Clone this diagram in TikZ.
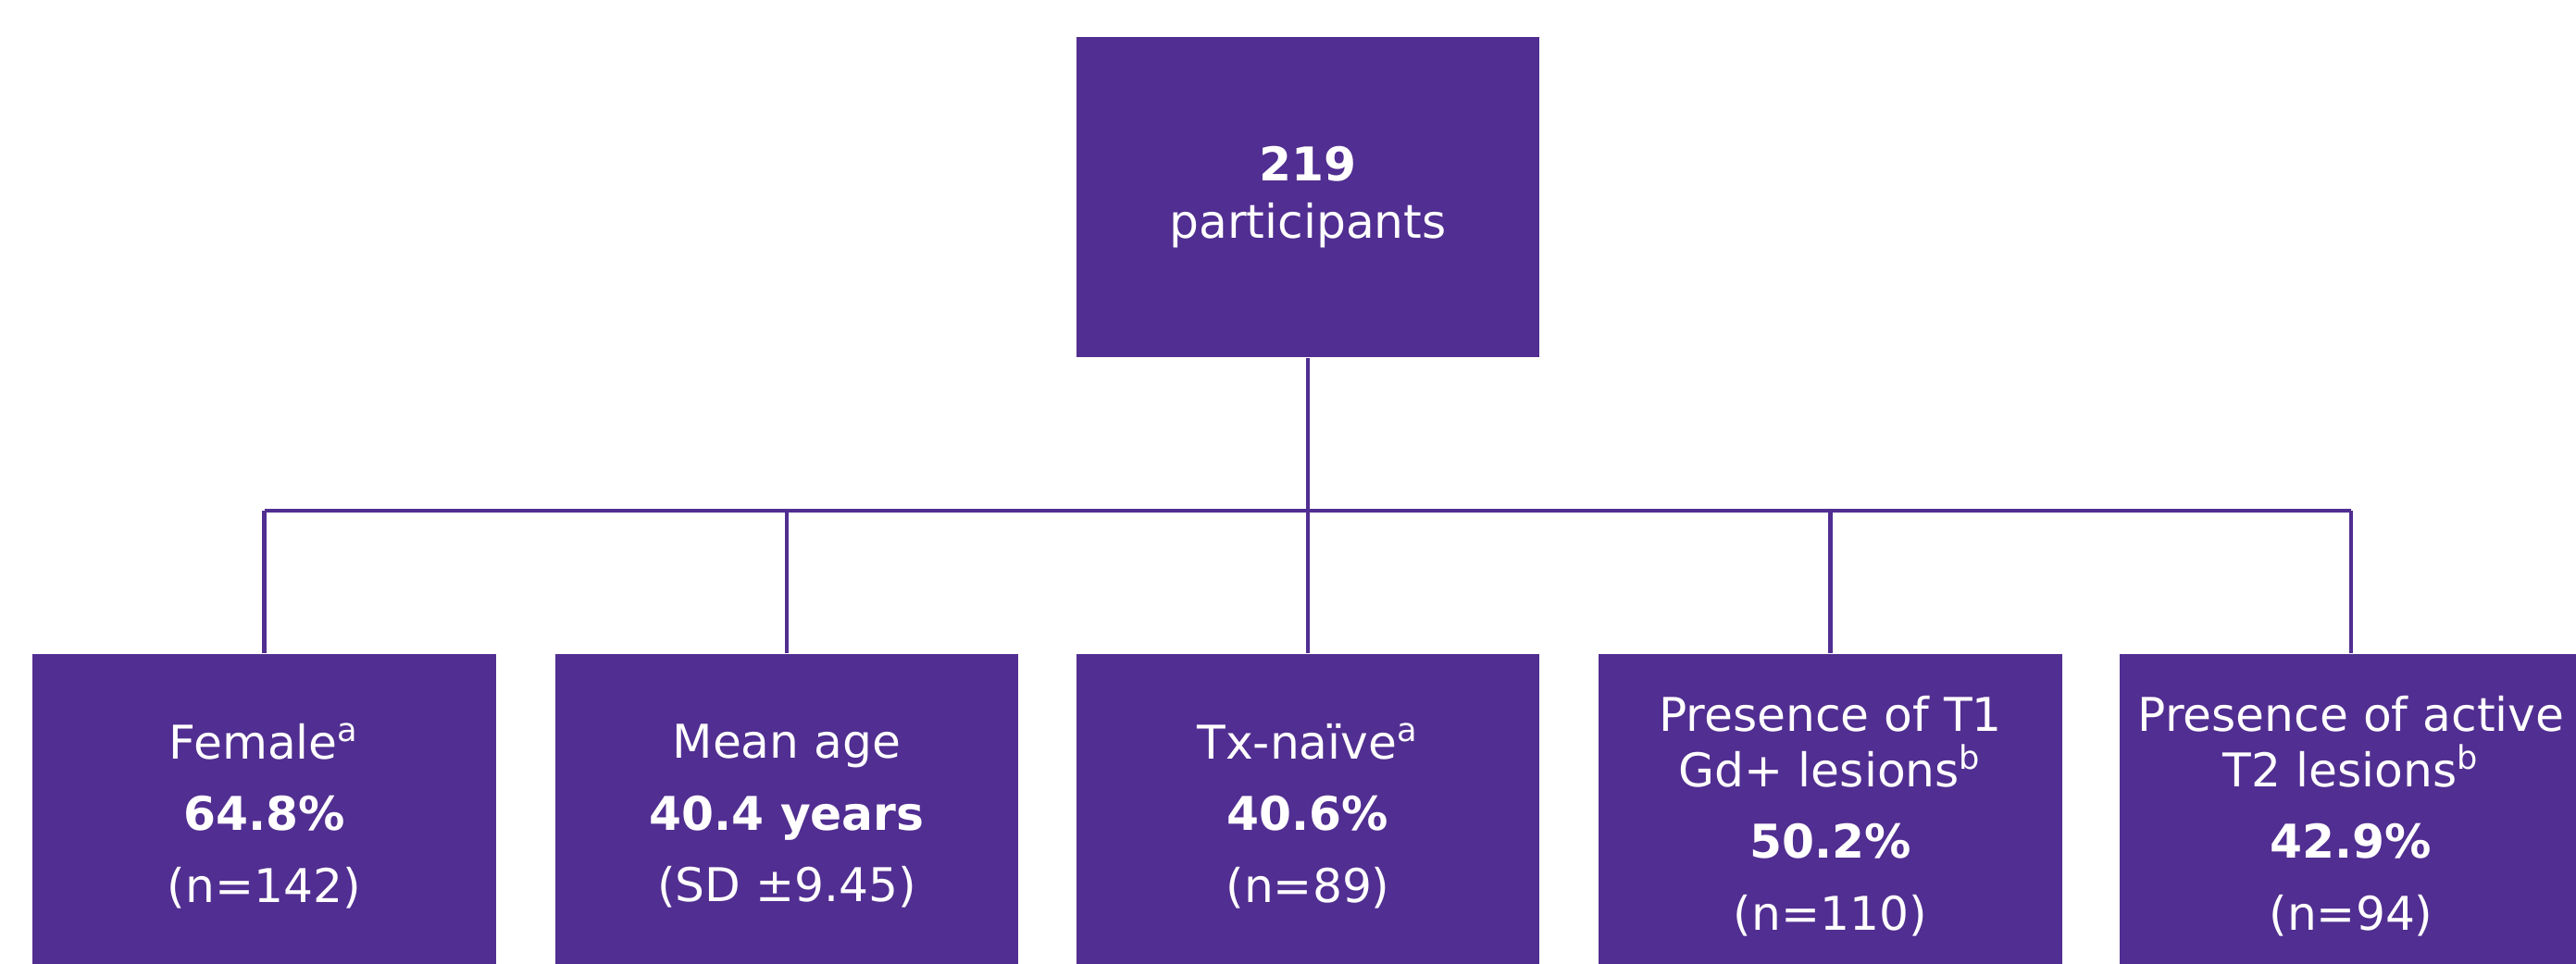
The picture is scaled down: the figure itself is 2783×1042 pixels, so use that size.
\documentclass[tikz,border=0pt]{standalone}
\usepackage{fontspec}
\setmainfont{DejaVu Sans}
\usetikzlibrary{positioning,calc}
\definecolor{plum}{HTML}{512E91}
\tikzset{
	box/.style={rectangle,fill=plum,text=white,align=center,minimum width=5cm,minimum height=3.46cm,inner sep=0},
	catbox/.style={box,minimum height=3.5cm,font=\fontsize{14.3}{17.1}\selectfont},
	link/.style={color=plum,line width=1.4pt}
}

\begin{document}
\begin{tikzpicture}[x=0.01cm,y=-0.01cm]
	\useasboundingbox (0,0) rectangle (2783,1042);
	\clip (0,0) rectangle (2783,1042);
	
	%%%% total
	\node[box,font=\fontsize{14.3}{17.6}\selectfont] (top) at (1413,213) {\textbf{219}\\participants};
	
	%%%% categories
	\node[catbox] (b1) at (285.5,882) {Female\textsuperscript{a}\\[5pt]\textbf{64.8\%}\\[5pt](n=142)};
	\node[catbox] (b2) at (850,882) {Mean age\\[5pt]\textbf{40.4 years}\\[5pt](SD ±9.45)};
	\node[catbox] (b3) at (1413,882) {Tx-naïve\textsuperscript{a}\\[5pt]\textbf{40.6\%}\\[5pt](n=89)};
	\node[catbox] (b4) at (1977.5,882) {Presence of T1\\Gd+ lesions\textsuperscript{b}\\[5pt]\textbf{50.2\%}\\[5pt](n=110)};
	\node[catbox] (b5) at (2540,882) {Presence of active\\T2 lesions\textsuperscript{b}\\[5pt]\textbf{42.9\%}\\[5pt](n=94)};
	
	%%%% tree
	\coordinate (split) at (1413,552);
	\draw[link] (top) -- (split);
	\draw[link] (split -| b1.north) -- (split -| b5.north);
	\foreach \i in {1,...,5}
		\draw[link] (split -| b\i.north) -- (b\i.north);
	
\end{tikzpicture}
\end{document}
